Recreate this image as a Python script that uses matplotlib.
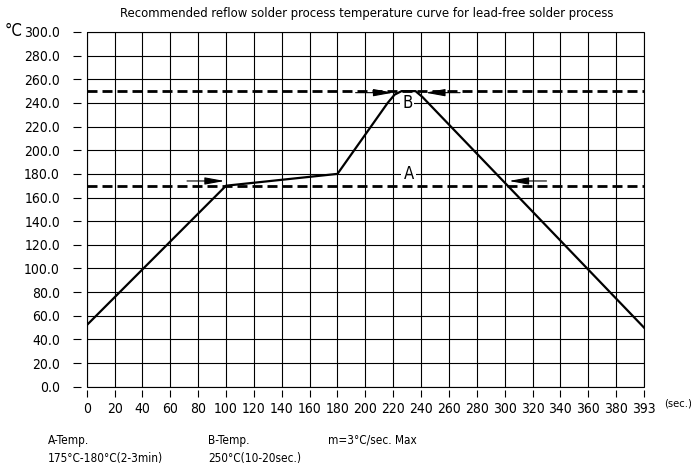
import matplotlib
matplotlib.use('Agg')
import matplotlib.pyplot as plt
import numpy as np
from matplotlib.patches import Rectangle

# ---- data ----
time_s = [0, 100, 180, 216, 221, 226, 236, 241, 393]
temp_c = [52, 170, 180, 240, 247, 250, 250, 245, 50]
x_tick_values = [0, 20, 40, 60, 80, 100, 120, 140, 160, 180, 200, 220, 240,
                 260, 280, 300, 320, 340, 360, 380, 393]
y_tick_values = [0, 20, 40, 60, 80, 100, 120, 140, 160, 180, 200, 220, 240,
                 260, 280, 300]
level_a = 170
level_b = 250
arrows_a = [((72, 174), (99, 174)), ((330, 174), (303, 174))]
arrows_b = [((193, 248.7), (220, 248.7)), ((268, 248.7), (243, 248.7))]
label_a = (231, 180, 'A')
label_b = (230, 240, 'B')
title = 'Recommended reflow solder process temperature curve for lead-free solder process'
notes = [('A-Temp.', '175°C-180°C(2-3min)'),
         ('B-Temp.', '250°C(10-20sec.)'),
         ('m=3°C/sec. Max', '')]

plt.rcParams['font.family'] = ['DejaVu Sans']
plt.rcParams['font.stretch'] = 'condensed'


def to_pos(t):
    t = np.asarray(t, dtype=float)
    return np.where(t <= 380, t, 380 + (t - 380) * 20.0 / 13.0)


fig = plt.figure(figsize=(6.91, 4.65), dpi=100)
ax = fig.add_axes([86.7 / 691, 1 - 386.7 / 465, (644 - 86.7) / 691, (386.7 - 32) / 465])

ax.set_xlim(0, 400)
ax.set_ylim(0, 300)
ax.set_xticks(to_pos(x_tick_values))
ax.set_xticklabels([str(v) for v in x_tick_values], fontsize=10)
ax.set_yticks(y_tick_values)
ax.set_yticklabels([f'{v:.1f}' for v in y_tick_values], fontsize=10)

ax.grid(True, color='black', lw=0.8)
ax.set_axisbelow(True)
for s in ax.spines.values():
    s.set_visible(False)
ax.spines['left'].set_position(('outward', 4.2))
ax.spines['bottom'].set_position(('outward', 2.4))
ax.tick_params(axis='y', direction='out', length=6, width=0.8, pad=9)
ax.tick_params(axis='x', direction='out', length=5, width=0.8, pad=3.5)
ax.add_patch(Rectangle((0, 0), 1, 1, transform=ax.transAxes, fill=False,
                       lw=0.8, ec='black', clip_on=False, zorder=1))

# dashed level lines
for lv in (level_a, level_b):
    ax.axhline(lv, color='black', lw=2, linestyle=(0, (3.6, 1.8)), zorder=3)

# curve
ax.plot(to_pos(time_s), temp_c, color='black', lw=1.6, zorder=4,
        solid_joinstyle='round')

# arrows
for (x0, y0), (x1, y1) in arrows_a + arrows_b:
    ax.annotate('', xy=(to_pos(x1), y1), xytext=(to_pos(x0), y0),
                arrowprops=dict(arrowstyle='-|>,head_length=1.2,head_width=0.22',
                                color='black', lw=0.8, shrinkA=0, shrinkB=0,
                                mutation_scale=10), zorder=5)

for x, y, s in (label_a, label_b):
    ax.text(to_pos(x), y, s, ha='center', va='center', fontsize=12,
            bbox=dict(fc='white', ec='none', pad=1.5), zorder=2.5)

fig.text(0.530, 1 - 14 / 465, title, ha='center', va='center', fontsize=9.4)
fig.text(5 / 691, 1 - 31 / 465, '°C', ha='left', va='center', fontsize=12)
fig.text(664 / 691, 1 - 404 / 465, '(sec.)', ha='left', va='center', fontsize=8)

note_x = [48, 208, 328]
for (l1, l2), nx in zip(notes, note_x):
    fig.text(nx / 691, 1 - 440 / 465, l1, ha='left', va='center', fontsize=8.5)
    if l2:
        fig.text(nx / 691, 1 - 458 / 465, l2, ha='left', va='center', fontsize=8.5)

fig.savefig('out.png', dpi=100)
